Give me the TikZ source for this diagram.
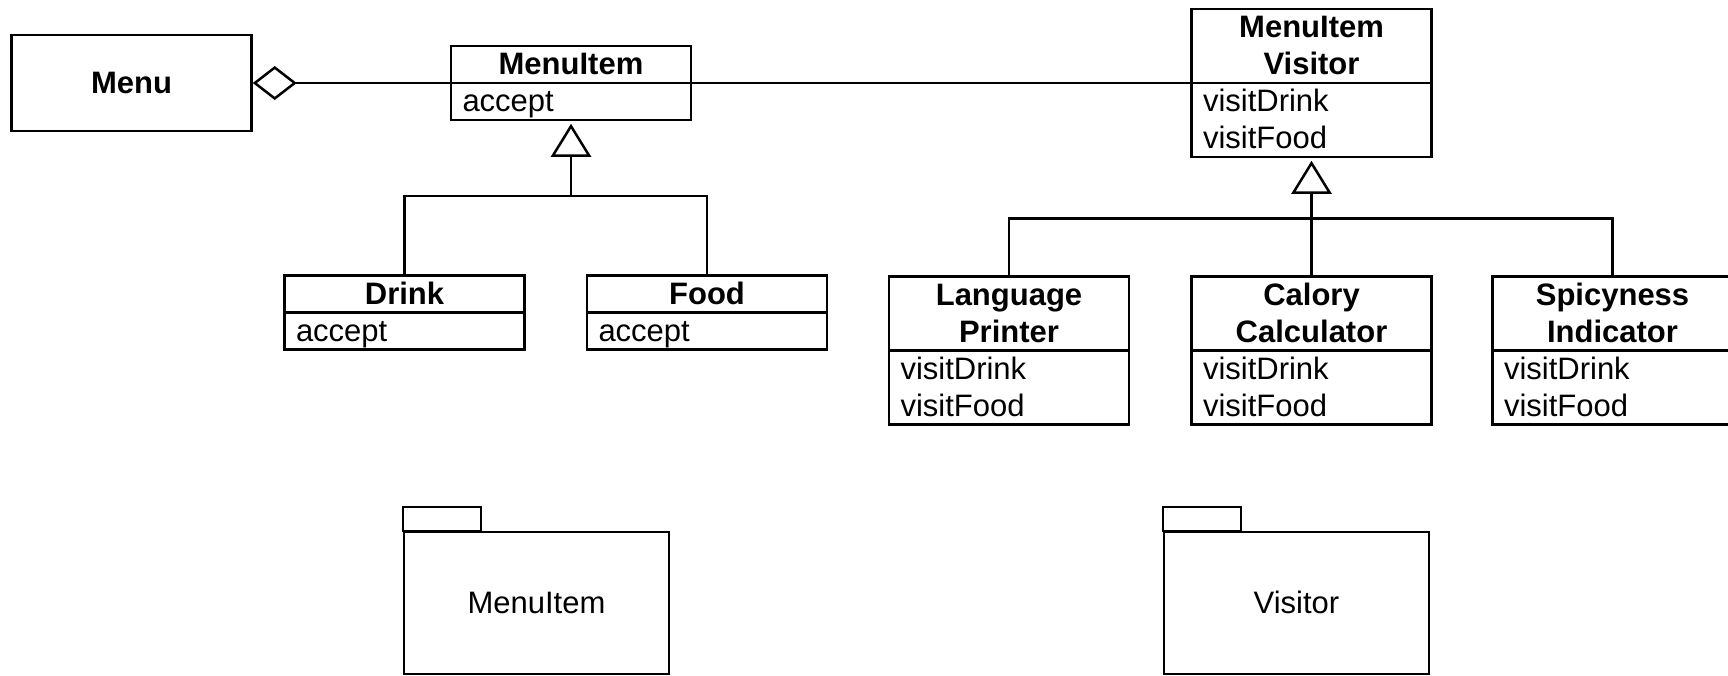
\documentclass[tikz,border=0pt]{standalone}
\usepackage{fontspec}
\setmainfont{Liberation Sans}
\usetikzlibrary{shapes.multipart,positioning,arrows.meta}

\newcommand{\rowstrut}{\rule[-3.3pt]{0pt}{14.8pt}}
\newcommand{\clsname}[1]{\centering\bfseries #1\par}
\newcommand{\clsops}[1]{\raggedright #1\par}

\begin{document}
\begin{tikzpicture}[x=0.4pt,y=-0.4pt,line width=1pt,
  every node/.style={font=\fontsize{12.4}{14.8}\selectfont},
  classbox/.style={draw,rectangle split,rectangle split parts=2,
    text width=86.8pt,inner xsep=4.6pt,inner ysep=-0.5pt},
  plainbox/.style={draw,minimum width=96pt,minimum height=38.4pt,
    font=\fontsize{12.4}{14.8}\selectfont\bfseries},
  package/.style={draw,line width=0.8pt,minimum width=106pt,minimum height=56.6pt},
  isa/.style={-{Triangle[open,length=13.2pt,width=16pt]},shorten >=1pt},
  hasa/.style={{Diamond[open,length=17.6pt,width=13.6pt]}-}]
  \useasboundingbox (0,0) rectangle (1728,675);

  \node [plainbox] (menu) at (131.5,83) {Menu};
  \node [classbox,right=78.8pt of menu.east,anchor=text split west] (mi)
    {\clsname{MenuItem\rowstrut}\nodepart{two}\clsops{accept\rowstrut}};
  \node [classbox,right=199.2pt of mi.text split east,anchor=text split west] (vis)
    {\clsname{MenuItem\rowstrut\\Visitor\rowstrut}
     \nodepart{two}\clsops{visitDrink\rowstrut\\visitFood\rowstrut}};

  \node [classbox,anchor=north] (drink) at (404.5,274)
    {\clsname{Drink\rowstrut}\nodepart{two}\clsops{accept\rowstrut}};
  \node [classbox,right=24pt of drink] (food)
    {\clsname{Food\rowstrut}\nodepart{two}\clsops{accept\rowstrut}};

  \node [classbox,below=46.8pt of vis] (cc)
    {\clsname{Calory\rowstrut\\Calculator\rowstrut}
     \nodepart{two}\clsops{visitDrink\rowstrut\\visitFood\rowstrut}};
  \node [classbox,left=24pt of cc] (lp)
    {\clsname{Language\rowstrut\\Printer\rowstrut}
     \nodepart{two}\clsops{visitDrink\rowstrut\\visitFood\rowstrut}};
  \node [classbox,right=23.4pt of cc] (si)
    {\clsname{Spicyness\rowstrut\\Indicator\rowstrut}
     \nodepart{two}\clsops{visitDrink\rowstrut\\visitFood\rowstrut}};

  \node [package] (pkgmi) at (536.5,602.75) {MenuItem};
  \draw [line width=0.8pt] (pkgmi.north west) rectangle ++(31.2pt,9.6pt);
  \node [package] (pkgvis) at (1296.5,602.75) {Visitor};
  \draw [line width=0.8pt] (pkgvis.north west) rectangle ++(31.2pt,9.6pt);

  \draw [hasa] (menu.east) -- (mi.text split west);
  \draw (mi.text split east) -- (vis.text split west);

  \coordinate (mibus) at ([yshift=31.2pt]drink.north);
  \draw (drink.north) -- (mibus) -| (food.north);
  \draw [isa] (mibus -| mi.south) -- (mi.south);

  \coordinate (visbus) at ([yshift=22.8pt]cc.north);
  \draw (lp.north) |- (visbus) -| (si.north);
  \draw (cc.north) -- (visbus);
  \draw [isa] (visbus) -- (vis.south);
\end{tikzpicture}
\end{document}
